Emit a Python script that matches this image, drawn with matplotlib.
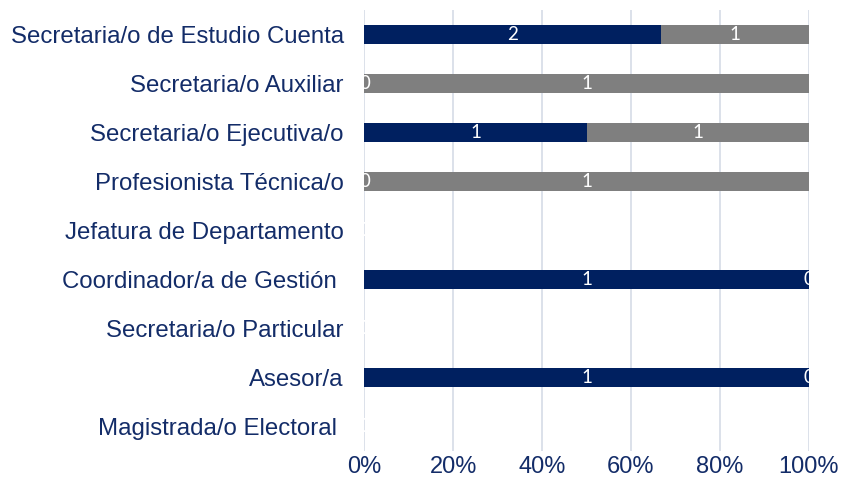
import matplotlib
matplotlib.use("Agg")
import matplotlib.pyplot as plt
import numpy as np

categories = [
    "Secretaria/o de Estudio Cuenta",
    "Secretaria/o Auxiliar",
    "Secretaria/o Ejecutiva/o",
    "Profesionista Técnica/o",
    "Jefatura de Departamento",
    "Coordinador/a de Gestión ",
    "Secretaria/o Particular",
    "Asesor/a",
    "Magistrada/o Electoral ",
]
serie_a = [2, 0, 1, 0, 0, 1, 0, 1, 0]
serie_b = [1, 1, 1, 1, 0, 0, 0, 0, 0]
xticks = [0, 20, 40, 60, 80, 100]
xtick_labels = ["0%", "20%", "40%", "60%", "80%", "100%"]

navy = "#002060"
gray = "#7F7F7F"
text_col = "#132C68"
grid_col = "#D9DEE8"

fig = plt.figure(figsize=(8.41, 4.93), dpi=100)
ax = fig.add_axes([0.4334, 0.0852, 0.5280, 0.8945])

a = np.array(serie_a, float)
b = np.array(serie_b, float)
tot = a + b
with np.errstate(invalid="ignore", divide="ignore"):
    pa = np.where(tot > 0, a / tot * 100, 0)
    pb = np.where(tot > 0, b / tot * 100, 0)

y = np.arange(len(categories))
h = 0.4
ax.barh(y, pa, height=h, color=navy, zorder=3)
ax.barh(y, pb, left=pa, height=h, color=gray, zorder=3)

for i in range(len(categories)):
    ax.text(pa[i] / 2, y[i], str(serie_a[i]), ha="center", va="center",
            color="white", fontsize=13.5, family="Lato", zorder=4, clip_on=True)
    ax.text(pa[i] + pb[i] / 2, y[i], str(serie_b[i]), ha="center", va="center",
            color="white", fontsize=13.5, family="Lato", zorder=4, clip_on=True)

ax.set_xlim(0, 100)
ax.set_ylim(len(categories) - 0.5, -0.5)
ax.set_yticks(y)
ax.set_yticklabels(categories, family="Liberation Sans", fontsize=17.3, color=text_col)
ax.set_xticks(xticks)
ax.set_xticklabels(xtick_labels, family="Liberation Sans", fontsize=17, color=text_col)
ax.tick_params(length=0)
ax.tick_params(axis="x", pad=3.5)
ax.tick_params(axis="y", pad=15)
ax.xaxis.grid(True, color=grid_col, linewidth=1.3, zorder=0)
ax.set_axisbelow(True)
for s in ax.spines.values():
    s.set_visible(False)

fig.savefig("out.png", dpi=100)
